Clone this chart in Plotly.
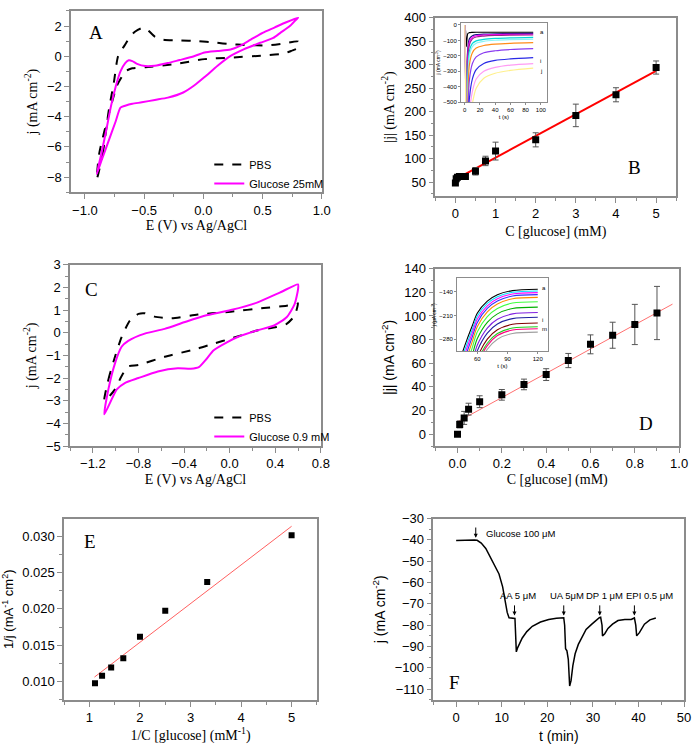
import plotly.graph_objects as go

SERIF = "Liberation Serif"
SANS = "Liberation Sans"
FW, FH = 700, 750
AXC = "#8c8c8c"

# ---------------- Panel A : CV, glucose 25 mM ----------------
a_pbs_E = [-0.90, -0.85, -0.80, -0.755, -0.72, -0.66, -0.617, -0.575, -0.52, -0.48, -0.41, -0.34,
           -0.20, -0.05, 0.10, 0.23, 0.35, 0.45, 0.55, 0.68, 0.80,
           0.80, 0.74, 0.68, 0.51, 0.23, 0.01, -0.24, -0.49, -0.60, -0.63, -0.66, -0.69, -0.73,
           -0.80, -0.88, -0.90]
a_pbs_j = [-8.15, -6.46, -3.65, -1.70, 0.00, 0.78, 1.32, 1.64, 1.86, 1.80, 1.30, 1.10,
           1.05, 1.00, 0.90, 0.80, 0.75, 0.72, 0.72, 0.84, 0.97,
           0.55, 0.35, 0.17, 0.05, -0.09, -0.19, -0.52, -0.73, -0.80, -0.88, -1.00, -1.38, -1.95,
           -3.87, -6.46, -8.15]
a_glu_E = [-0.90, -0.86, -0.82, -0.78, -0.74, -0.70, -0.66, -0.63, -0.60, -0.56, -0.49, -0.41,
           -0.30, -0.20, -0.10, 0.01, 0.12, 0.23, 0.30, 0.40, 0.50, 0.60, 0.70, 0.80,
           0.78, 0.73, 0.65, 0.59, 0.48, 0.34, 0.23, 0.12, 0.01, -0.075, -0.17, -0.30, -0.41,
           -0.52, -0.60, -0.66, -0.70, -0.74, -0.80, -0.86, -0.90]
a_glu_j = [-7.80, -6.40, -4.90, -3.30, -2.00, -1.00, -0.45, -0.27, -0.32, -0.50, -0.65, -0.63,
           -0.45, -0.25, -0.05, 0.25, 0.35, 0.45, 0.65, 1.10, 1.55, 1.90, 2.25, 2.55,
           2.40, 2.00, 1.55, 1.21, 0.89, 0.45, 0.02, -0.63, -1.38, -1.92, -2.40, -2.74, -2.89,
           -3.05, -3.15, -3.28, -3.40, -4.30, -5.60, -6.90, -7.80]

# ---------------- Panel B : |j| vs C (0-5 mM) ----------------
b_C = [0, 0.02, 0.05, 0.1, 0.25, 0.5, 0.75, 1, 2, 3, 4, 5]
b_j = [48, 57, 60, 62, 62, 73, 95, 116, 140, 192, 236, 294]
b_err = [2, 3, 3, 3, 3, 8, 10, 19, 15, 24, 15, 14]
b_fit_C = [0, 5]
b_fit_j = [55.6, 287]

# inset of B : chronoamperograms
bi_t = [0, 1, 2, 4, 6, 10, 15, 25, 40, 60, 90]
bi_curves = [
    [0, -40, -140, -55, -50, -48, -47, -47, -47, -47, -47],
    [0, -200, -600, -150, -90, -70, -63, -59, -57, -56, -55],
    [0, -220, -650, -200, -110, -80, -70, -65, -62, -61, -60],
    [0, -240, -700, -260, -130, -90, -78, -72, -68, -66, -65],
    [0, -260, -750, -350, -170, -120, -103, -93, -87, -83, -80],
    [0, -280, -800, -420, -200, -140, -118, -106, -99, -95, -92],
    [0, -300, -850, -500, -260, -180, -150, -133, -124, -119, -115],
    [0, -320, -900, -600, -360, -250, -207, -180, -167, -159, -153],
    [0, -340, -950, -700, -480, -350, -290, -250, -230, -220, -212],
    [0, -360, -1000, -800, -580, -430, -350, -300, -275, -260, -250],
    [0, -380, -1050, -900, -680, -510, -410, -345, -313, -295, -280],
]
bi_colors = ["#000000", "#1a1a80", "#ff00ff", "#a0208c", "#00d8d8", "#8cf4f4",
             "#ff8c1a", "#8a3cf0", "#2a2ae6", "#ff9cf4", "#fff08c"]
bi_labels = ["a", "i", "j"]
bi_label_j = [-43, -236, -300]

# ---------------- Panel C : CV, glucose 0.9 mM ----------------
c_pbs_E = [-1.10, -1.064, -1.006, -0.948, -0.875, -0.80, -0.745, -0.66, -0.51, -0.28, 0.01, 0.30,
           0.50, 0.59, 0.60, 0.57, 0.50, 0.41, 0.24, 0.01, -0.14, -0.28, -0.57, -0.80, -0.89,
           -0.95, -1.006, -1.08, -1.10]
c_pbs_j = [-3.00, -2.07, -1.06, -0.19, 0.54, 0.83, 0.86, 0.71, 0.64, 0.80, 0.93, 1.09,
           1.19, 1.26, 1.30, 0.75, 0.39, 0.25, 0.10, -0.26, -0.48, -0.70, -1.06, -1.42, -1.49,
           -1.93, -2.50, -2.94, -3.00]
c_glu_E = [-1.10, -1.064, -1.006, -0.948, -0.89, -0.745, -0.57, -0.40, -0.22, 0.01, 0.24, 0.44,
           0.60, 0.60, 0.57, 0.50, 0.39, 0.24, 0.07, -0.02, -0.14, -0.21, -0.27, -0.34, -0.455,
           -0.63, -0.80, -0.92, -0.99, -1.10]
c_glu_j = [-3.60, -2.50, -1.35, -0.62, -0.36, -0.04, 0.17, 0.46, 0.75, 1.00, 1.33, 1.77,
           2.13, 1.91, 1.26, 0.68, 0.32, 0.10, -0.19, -0.41, -0.77, -1.20, -1.52, -1.59, -1.57,
           -1.71, -2.00, -2.22, -2.50, -3.60]

# ---------------- Panel D : |j| vs C (0-0.9 mM) ----------------
d_C = [0, 0.01, 0.03, 0.05, 0.1, 0.2, 0.3, 0.4, 0.5, 0.6, 0.7, 0.8, 0.9]
d_j = [0, 8.3, 13.8, 21.2, 27.5, 33.3, 42.1, 50.4, 62.3, 76.0, 83.7, 92.8, 102.5]
d_err = [0, 3, 5.5, 5, 5, 4.5, 4.5, 5, 6, 8, 11, 17, 22.5]
d_fit_C = [0, 0.97]
d_fit_j = [10.5, 110]

# inset of D
di_t = [45, 50, 55, 60, 70, 80, 95, 120]
di_curves = [
    [-322, -280, -241, -203, -167, -148, -136, -132],
    [-335, -292, -252, -212, -174, -154, -141, -137],
    [-348, -304, -262, -221, -181, -160, -146, -142],
    [-362, -317, -274, -231, -189, -167, -152, -148],
    [-378, -332, -288, -243, -199, -176, -160, -156],
    [-400, -352, -306, -259, -213, -189, -173, -169],
    [-425, -376, -328, -279, -230, -205, -189, -185],
    [-450, -399, -349, -298, -247, -221, -205, -201],
    [-472, -420, -368, -315, -262, -235, -219, -215],
    [-498, -445, -391, -336, -280, -252, -236, -232],
    [-515, -461, -406, -350, -292, -263, -247, -243],
    [-525, -470, -414, -358, -299, -269, -253, -249],
    [-540, -485, -428, -371, -310, -280, -263, -259],
]
di_colors = ["#000000", "#00e0ff", "#ff00ff", "#3030ff", "#ff8c00", "#40ff40",
             "#00b000", "#8020e0", "#2020a0", "#800000", "#20d020", "#ff0080", "#a0a0a0"]
di_labels = ["a", "i", "m"]
di_label_j = [-128, -224, -250]

# ---------------- Panel E : Lineweaver-Burk ----------------
e_x = [1.11, 1.25, 1.43, 1.67, 2.0, 2.5, 3.33, 5.0]
e_y = [0.00978, 0.0108, 0.01196, 0.0132, 0.01616, 0.01973, 0.0237, 0.0301]
e_fit_x = [1.1, 5.0]
e_fit_y = [0.01063, 0.03134]

# ---------------- Panel F : interference test ----------------
f_t = [0, 2, 4, 4.6, 5.5, 6.5, 7.5, 8.5, 9.4, 10.2, 10.9, 11.2, 11.6, 12.3, 12.9, 13.0, 13.2,
       13.5, 14.5, 15.5, 16.7, 18.5, 20.3, 22, 23.6, 23.8, 24.0, 24.3, 24.6, 24.9, 25.2, 25.6,
       26.1, 26.8, 27.5, 28.5, 29.7, 30.5, 31.4, 31.7, 32.0, 32.1, 32.6, 33.3, 34.3, 35.5, 37,
       38.4, 39.1, 39.4, 39.6, 40.2, 41.3, 42.5, 43.8]
f_j = [-40.3, -40.1, -40.0, -40.2, -41.5, -44, -48, -52.5, -56, -62, -70, -74, -76.5, -76.8,
       -76.8, -82, -92.5, -90.5, -86, -83, -80.5, -78.5, -77.3, -76.7, -76.5, -80, -91, -92,
       -96, -108.5, -106, -99, -93.4, -89, -85.8, -82, -79.6, -78, -76.5, -76.3, -80, -85, -84,
       -81.5, -79.5, -77.8, -77.3, -77.3, -76.6, -80, -85, -83.5, -79.5, -77.5, -76.6]
f_event_t = [4.3, 12.8, 23.6, 31.5, 39.1]
f_event_head = [-39, -75.5, -75.5, -75.5, -75.5]
f_event_labels = ["Glucose 100 \u03bcM", "AA 5 \u03bcM", "UA 5\u03bcM", "DP 1 \u03bcM", "EPI 0.5 \u03bcM"]
f_label_t = [6.2, 13.6, 24.3, 32.6, 42.4]
f_label_j = [-37, -66.3, -66.3, -66.3, -66.3]

# ---------------- figure ----------------
fig = go.Figure()


def dx(l, r):
    return [l / FW, r / FW]


def dy(t, b):
    return [1 - b / FH, 1 - t / FH]


def axis(domain, rng, dtick, anchor, minor=None, fsize=13, fmt=None, title=None,
         tfont=SERIF, tsize=14, standoff=None, tick0=0, lw=1.5, ticklen=5, tickvals=None):
    d = dict(domain=domain, range=rng, anchor=anchor, showline=True, mirror=True,
             linecolor=AXC, linewidth=lw, ticks="outside", ticklen=ticklen, tickcolor=AXC,
             tickwidth=1, showgrid=False, zeroline=False, dtick=dtick, tick0=tick0,
             tickfont=dict(family=SANS, size=fsize, color="black"))
    if tickvals is not None:
        d["tickvals"] = tickvals
        d.pop("dtick")
        d.pop("tick0")
    if minor is not None:
        d["minor"] = dict(ticks="outside", ticklen=max(2, ticklen - 2), tickcolor=AXC,
                          dtick=minor, tick0=tick0, showgrid=False)
    if fmt:
        d["tickformat"] = fmt
    if title:
        d["title"] = dict(text=title, font=dict(family=tfont, size=tsize, color="black"))
        if standoff is not None:
            d["title"]["standoff"] = standoff
    return d


# Panel A
fig.add_trace(go.Scatter(x=a_pbs_E, y=a_pbs_j, mode="lines", name="PBS",
                         line=dict(color="black", width=2, dash="dash", shape="spline", smoothing=0.6),
                         xaxis="x", yaxis="y", legend="legend"))
fig.add_trace(go.Scatter(x=a_glu_E, y=a_glu_j, mode="lines", name="Glucose 25mM",
                         line=dict(color="#ff00ff", width=2, shape="spline", smoothing=0.6),
                         xaxis="x", yaxis="y", legend="legend"))

# Panel B
fig.add_trace(go.Scatter(x=b_fit_C, y=b_fit_j, mode="lines", line=dict(color="#ff0000", width=2),
                         xaxis="x2", yaxis="y2", showlegend=False))
fig.add_trace(go.Scatter(x=b_C, y=b_j, mode="markers",
                         marker=dict(symbol="square", size=7, color="black"),
                         error_y=dict(type="data", array=b_err, color="#555", thickness=1, width=3),
                         xaxis="x2", yaxis="y2", showlegend=False))
for cur, col in zip(bi_curves, bi_colors):
    fig.add_trace(go.Scatter(x=bi_t, y=cur, mode="lines",
                             line=dict(color=col, width=1.2, shape="spline", smoothing=0.8),
                             xaxis="x7", yaxis="y7", showlegend=False))

# Panel C
fig.add_trace(go.Scatter(x=c_pbs_E, y=c_pbs_j, mode="lines", name="PBS",
                         line=dict(color="black", width=2, dash="dash", shape="spline", smoothing=0.6),
                         xaxis="x3", yaxis="y3", legend="legend2"))
fig.add_trace(go.Scatter(x=c_glu_E, y=c_glu_j, mode="lines", name="Glucose 0.9 mM",
                         line=dict(color="#ff00ff", width=2, shape="spline", smoothing=0.6),
                         xaxis="x3", yaxis="y3", legend="legend2"))

# Panel D
fig.add_trace(go.Scatter(x=d_fit_C, y=d_fit_j, mode="lines", line=dict(color="#ff7070", width=1),
                         xaxis="x4", yaxis="y4", showlegend=False))
fig.add_trace(go.Scatter(x=d_C, y=d_j, mode="markers",
                         marker=dict(symbol="square", size=7, color="black"),
                         error_y=dict(type="data", array=d_err, color="#555", thickness=1, width=3),
                         xaxis="x4", yaxis="y4", showlegend=False))
for cur, col in zip(di_curves, di_colors):
    fig.add_trace(go.Scatter(x=di_t, y=cur, mode="lines",
                             line=dict(color=col, width=1.1, shape="spline", smoothing=0.8),
                             xaxis="x8", yaxis="y8", showlegend=False))

# Panel E
fig.add_trace(go.Scatter(x=e_fit_x, y=e_fit_y, mode="lines", line=dict(color="#ff6060", width=1),
                         xaxis="x5", yaxis="y5", showlegend=False))
fig.add_trace(go.Scatter(x=e_x, y=e_y, mode="markers",
                         marker=dict(symbol="square", size=6, color="black"),
                         xaxis="x5", yaxis="y5", showlegend=False))

# Panel F
fig.add_trace(go.Scatter(x=f_t, y=f_j, mode="lines", line=dict(color="black", width=1.5),
                         xaxis="x6", yaxis="y6", showlegend=False))

# domains (pixel boxes)
A_box = (72, 326, 4, 189)
B_box = (441, 685, 11, 193)
C_box = (71, 325, 263, 448)
D_box = (441, 688, 267, 448)
E_box = (65, 321, 522, 707)
F_box = (439, 693, 522, 707)
BI_box = (467, 554, 16, 97)
DI_box = (463, 555, 277, 351)

sup = lambda s: "<sup>" + s + "</sup>"

fig.update_layout(
    width=FW, height=FH, margin=dict(l=0, r=0, t=0, b=0),
    paper_bgcolor="white", plot_bgcolor="white",
    xaxis=axis(dx(*A_box[:2]), [-1.117, 1.0], 0.5, "y", minor=0.25, fmt=".1f",
               title="E (V) vs Ag/AgCl", standoff=4),
    yaxis=axis(dy(*A_box[2:]), [-9, 3], 2, "x", minor=1,
               title="j (mA cm" + sup("-2") + ")", standoff=6),
    xaxis2=axis(dx(*B_box[:2]), [-0.5, 5.5], 1, "y2", minor=0.5,
                title="C [glucose] (mM)", standoff=6),
    yaxis2=axis(dy(*B_box[2:]), [20, 400], 50, "x2", minor=25,
                title="|j| (mA cm" + sup("-2") + ")", standoff=6),
    xaxis3=axis(dx(*C_box[:2]), [-1.4, 0.8], 0.4, "y3", minor=0.2, fmt=".1f",
                title="E (V) vs Ag/AgCl", standoff=4),
    yaxis3=axis(dy(*C_box[2:]), [-5, 3], 1, "x3", minor=0.5,
                title="j (mA cm" + sup("-2") + ")", standoff=6),
    xaxis4=axis(dx(*D_box[:2]), [-0.1, 1.0], 0.2, "y4", minor=0.1, fmt=".1f",
                title="C [glucose] (mM)", standoff=4),
    yaxis4=axis(dy(*D_box[2:]), [-10, 140], 20, "x4", minor=10,
                title="|j| (mA cm" + sup("-2") + ")", tfont=SANS, standoff=6),
    xaxis5=axis(dx(*E_box[:2]), [0.5, 5.5], 1, "y5", minor=0.5,
                title="1/C [glucose] (mM" + sup("-1") + ")", standoff=4),
    yaxis5=axis(dy(*E_box[2:]), [0.0075, 0.0324], 0.005, "x5", minor=0.0025, fmt=".3f",
                title="1/j (mA" + sup("-1") + " cm" + sup("2") + ")", tfont=SANS, tsize=13, standoff=6),
    xaxis6=axis(dx(*F_box[:2]), [-5, 50], 10, "y6", minor=5,
                title="t (min)", tfont=SANS, standoff=7),
    yaxis6=axis(dy(*F_box[2:]), [-115, -30], 10, "x6", minor=5,
                title="j (mA cm" + sup("-2") + ")", tfont=SANS, standoff=6),
    xaxis7=axis(dx(*BI_box[:2]), [-5, 108], 20, "y7", fsize=6, title="t (s)", tfont=SANS,
                tsize=6, standoff=2, lw=1, ticklen=2),
    yaxis7=axis(dy(*BI_box[2:]), [-500, 15], 100, "x7", fsize=6,
                title="j (mA cm" + sup("-2") + ")", tfont=SANS, tsize=5, standoff=2, lw=1, ticklen=2),
    xaxis8=axis(dx(*DI_box[:2]), [40, 130], None, "y8", fsize=6, title="t (s)", tfont=SANS,
                tsize=6, standoff=2, lw=1, ticklen=2, tickvals=[60, 90, 120]),
    yaxis8=axis(dy(*DI_box[2:]), [-315, -100], None, "x8", fsize=6,
                title="j (\u03bcA cm" + sup("-2") + ")", tfont=SANS, tsize=5, standoff=2, lw=1,
                ticklen=2, tickvals=[-280, -210, -140]),
    legend=dict(x=212 / FW, y=1 - 146 / FH, xanchor="left", yanchor="top",
                bgcolor="rgba(0,0,0,0)", font=dict(family=SANS, size=11, color="black"),
                tracegroupgap=0),
    legend2=dict(x=212 / FW, y=1 - 404 / FH, xanchor="left", yanchor="top",
                 bgcolor="rgba(0,0,0,0)", font=dict(family=SANS, size=11, color="black"),
                 tracegroupgap=0),
)

ann = []
# panel letters
for txt, xr, yr, xv, yv in [("A", "x", "y", -0.908, 1.58), ("B", "x2", "y2", 4.46, 81),
                            ("C", "x3", "y3", -1.21, 1.91), ("D", "x4", "y4", 0.85, 8.8),
                            ("E", "x5", "y5", 1.01, 0.0293), ("F", "x6", "y6", -0.4, -107)]:
    ann.append(dict(text=txt, x=xv, y=yv, xref=xr, yref=yr, showarrow=False,
                    font=dict(family=SERIF, size=19, color="black")))
# inset labels
for lab, jv in zip(bi_labels, bi_label_j):
    ann.append(dict(text=lab, x=96, y=jv, xref="x7", yref="y7", showarrow=False, xanchor="left",
                    font=dict(family=SANS, size=6, color="black")))
for lab, jv in zip(di_labels, di_label_j):
    ann.append(dict(text=lab, x=122, y=jv, xref="x8", yref="y8", showarrow=False, xanchor="left",
                    font=dict(family=SANS, size=6, color="black")))
# panel F arrows and labels
for tv, hv in zip(f_event_t, f_event_head):
    ann.append(dict(text="", x=tv, y=hv, xref="x6", yref="y6", ax=tv, ay=hv + 5.5,
                    axref="x6", ayref="y6", showarrow=True, arrowhead=2, arrowsize=0.8,
                    arrowwidth=1, arrowcolor="black"))
for i, (lab, tv, jv) in enumerate(zip(f_event_labels, f_label_t, f_label_j)):
    ann.append(dict(text=lab, x=tv, y=jv, xref="x6", yref="y6", showarrow=False,
                    xanchor="left" if i == 0 else "center",
                    font=dict(family=SANS, size=9.5, color="black")))
fig.update_layout(annotations=ann)

fig.write_html("out.html", config={"displayModeBar": False},
               post_script="document.body.style.margin='0';document.body.style.overflow='hidden';")
